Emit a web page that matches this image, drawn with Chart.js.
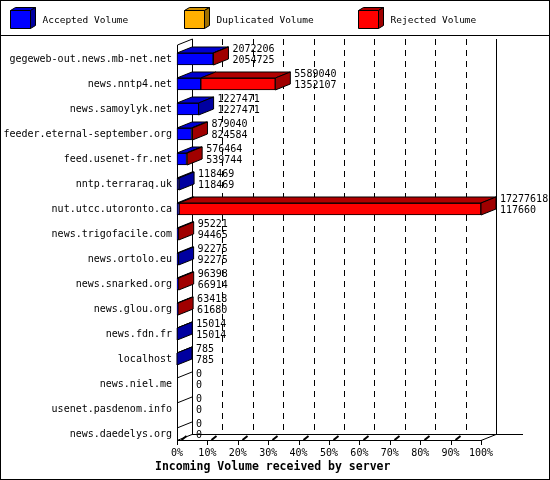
<!DOCTYPE html>
<html>
<head>
<meta charset="utf-8">
<script src="https://cdn.jsdelivr.net/npm/chart.js@4.4.1/dist/chart.umd.min.js"></script>
<style>
  html, body { margin: 0; padding: 0; background: #fff; }
  #chart { display: block; }
</style>
</head>
<body>
<canvas id="chart" width="550" height="480"></canvas>
<script>
const servers = ["gegeweb-out.news.mb-net.net", "news.nntp4.net", "news.samoylyk.net", "feeder.eternal-september.org",
                 "feed.usenet-fr.net", "nntp.terraraq.uk", "nut.utcc.utoronto.ca", "news.trigofacile.com",
                 "news.ortolo.eu", "news.snarked.org", "news.glou.org", "news.fdn.fr", "localhost",
                 "news.niel.me", "usenet.pasdenom.info", "news.daedelys.org"];
// top number printed next to each bar
const totalVolume = [2072206, 5589040, 1227471, 879040, 576464, 118469, 17277618, 95221,
                     92275, 96398, 63418, 15014, 785, 0, 0, 0];
const acceptedVolume = [2054725, 1352107, 1227471, 824584, 539744, 118469, 117660, 94465,
                        92275, 66914, 61680, 15014, 785, 0, 0, 0];
const duplicatedVolume = [0, 0, 0, 0, 0, 0, 0, 0, 0, 0, 0, 0, 0, 0, 0, 0];
const rejectedVolume = [17481, 4236933, 0, 54456, 36720, 0, 17159958, 756,
                        0, 29484, 1738, 0, 0, 0, 0, 0];
const percentTicks = [0, 10, 20, 30, 40, 50, 60, 70, 80, 90, 100];

const xMax = 17277618;
const DX = 15, DY = -6;          // depth of the fake 3d
const mono = "'DejaVu Sans Mono', monospace";

function poly(ctx, pts, fill) {
    ctx.beginPath();
    ctx.moveTo(pts[0][0], pts[0][1]);
    for (let i = 1; i < pts.length; i++) ctx.lineTo(pts[i][0], pts[i][1]);
    ctx.closePath();
    if (fill) { ctx.fillStyle = fill; ctx.fill(); }
    ctx.stroke();
}

function line(ctx, x1, y1, x2, y2) {
    ctx.beginPath();
    ctx.moveTo(x1, y1);
    ctx.lineTo(x2, y2);
    ctx.stroke();
}

// walls, floor, grid and the top/side faces of the bars
const box3d = {
    id: 'box3d',
    beforeDatasetsDraw(chart) {
        const ctx = chart.ctx;
        const xs = chart.scales.x;
        const area = chart.chartArea;
        const x0 = xs.getPixelForValue(0), x100 = xs.getPixelForValue(xMax);
        const fTop = area.top - 14, fBot = area.bottom + 6;
        ctx.save();
        ctx.strokeStyle = '#000';
        ctx.lineWidth = 1;
        // dashed grid on the back wall
        ctx.setLineDash([6, 5]);
        percentTicks.slice(1, -1).forEach(p => {
            const x = Math.round(xs.getPixelForValue(p / 100 * xMax) + DX) + 0.5;
            line(ctx, x, fTop + DY, x, fBot + DY);
        });
        ctx.setLineDash([]);
        line(ctx, x0 + DX + 0.5, fTop + DY, x0 + DX + 0.5, fBot + DY);
        line(ctx, x100 + DX + 0.5, fTop + DY, x100 + DX + 0.5, fBot + DY);
        line(ctx, x0 + 0.5, fTop, x0 + 0.5, fBot);
        line(ctx, x0 + 0.5, fTop, x0 + DX + 0.5, fTop + DY);
        // floor
        line(ctx, x0, fBot + 0.5, x100, fBot + 0.5);
        line(ctx, x100, fBot + 0.5, x100 + DX, fBot + DY + 0.5);
        line(ctx, x0 + DX, fBot + DY + 0.5, x100 + DX + 27, fBot + DY + 0.5);
        line(ctx, x0, fBot + 0.5, x0 + DX, fBot + DY + 0.5);
        percentTicks.forEach(p => {
            const x = Math.round(xs.getPixelForValue(p / 100 * xMax)) + 0.5;
            line(ctx, x, fBot, x, fBot + 5);
            if (p < 100) {
                ctx.lineWidth = 2;
                line(ctx, x + 4, fBot, x + 9, fBot - 4);
                ctx.lineWidth = 1;
            }
        });
        ctx.restore();
    },
    afterDatasetsDraw(chart) {
        const ctx = chart.ctx;
        const metas = chart.data.datasets.map((d, i) => chart.getDatasetMeta(i));
        ctx.save();
        ctx.strokeStyle = '#000';
        ctx.lineWidth = 1;
        ctx.font = '10px ' + mono;
        ctx.fillStyle = '#000';
        servers.forEach((s, row) => {
            let last = null, end = null, y = 0, h = 0;
            metas.forEach((m, di) => {
                const bar = m.data[row];
                const p = bar.getProps(['x', 'y', 'base', 'height'], true);
                y = p.y; h = p.height;
                const left = Math.min(p.x, p.base), right = Math.max(p.x, p.base);
                if (end === null) end = left;
                if (right - left > 0.01) {
                    const top = y - h / 2;
                    poly(ctx, [[left, top], [right, top], [right + DX, top + DY], [left + DX, top + DY]],
                         chart.data.datasets[di].topColor);
                    last = di;
                    end = right;
                }
            });
            const top = y - h / 2, bot = y + h / 2;
            if (last !== null) {
                poly(ctx, [[end, top], [end + DX, top + DY], [end + DX, bot + DY], [end, bot]],
                     chart.data.datasets[last].sideColor);
            } else {
                line(ctx, end, top, end + DX, top + DY);
            }
            ctx.textBaseline = 'middle';
            ctx.textAlign = 'left';
            ctx.fillStyle = '#000';
            ctx.fillText(String(totalVolume[row]), end + DX + 4, y - 10);
            ctx.fillText(String(acceptedVolume[row]), end + DX + 4, y + 1);
        });
        ctx.restore();
    },
    afterDraw(chart) {
        const ctx = chart.ctx;
        ctx.save();
        ctx.strokeStyle = '#000';
        ctx.lineWidth = 1;
        ctx.strokeRect(0.5, 0.5, chart.width - 1, chart.height - 1);
        line(ctx, 0, 35.5, chart.width, 35.5);
        // legend with little cubes
        chart.data.datasets.forEach((d, i) => {
            const bx = 10.5 + i * 174, by = 10.5;
            poly(ctx, [[bx, by], [bx + 5, by - 3], [bx + 25, by - 3], [bx + 20, by]], d.topColor);
            poly(ctx, [[bx + 20, by], [bx + 25, by - 3], [bx + 25, by + 15], [bx + 20, by + 18]], d.sideColor);
            poly(ctx, [[bx, by], [bx + 20, by], [bx + 20, by + 18], [bx, by + 18]], d.backgroundColor);
            ctx.fillStyle = '#000';
            ctx.font = '9.5px ' + mono;
            ctx.textBaseline = 'middle';
            ctx.textAlign = 'left';
            ctx.fillText(d.label, bx + 32, by + 10);
        });
        ctx.font = 'bold 11.5px ' + mono;
        ctx.textBaseline = 'middle';
        ctx.fillText('Incoming Volume received by server', 155, 467);
        ctx.restore();
    }
};

const data = {
    labels: servers,
    datasets: [{
        label: 'Accepted Volume',
        data: acceptedVolume,
        backgroundColor: '#0000ff',
        topColor: '#0000d0',
        sideColor: '#0000a0'
    }, {
        label: 'Duplicated Volume',
        data: duplicatedVolume,
        backgroundColor: '#ffb000',
        topColor: '#d09000',
        sideColor: '#a07000'
    }, {
        label: 'Rejected Volume',
        data: rejectedVolume,
        backgroundColor: '#ff0000',
        topColor: '#b00000',
        sideColor: '#a00000'
    }]
};

const config = {
    type: 'bar',
    data: data,
    options: {
        indexAxis: 'y',
        responsive: false,
        animation: false,
        devicePixelRatio: 1,
        datasets: {
            bar: {
                barThickness: 12,
                borderWidth: 1,
                borderColor: '#000',
                borderSkipped: false,
                clip: false
            }
        },
        layout: { padding: { top: 59, right: 69, bottom: 0, left: 0 } },
        scales: {
            x: {
                stacked: true,
                min: 0,
                max: xMax,
                afterBuildTicks: s => { s.ticks = percentTicks.map(p => ({ value: p / 100 * xMax })); },
                afterFit: s => { s.height = 46; },
                grid: { display: false, drawTicks: false },
                border: { display: false },
                ticks: {
                    autoSkip: false,
                    maxRotation: 0,
                    padding: 13,
                    color: '#000',
                    font: { family: mono, size: 10 },
                    callback: v => Math.round(v / xMax * 100) + '%'
                }
            },
            y: {
                stacked: true,
                offset: false,
                afterFit: s => { s.width = 177; },
                grid: { display: false, drawTicks: false },
                border: { display: false },
                ticks: {
                    autoSkip: false,
                    padding: 5,
                    color: '#000',
                    font: { family: mono, size: 10 }
                }
            }
        },
        plugins: {
            legend: { display: false },
            tooltip: { enabled: false }
        }
    },
    plugins: [box3d]
};

var chart = new Chart(document.getElementById('chart'), config);
</script>
</body>
</html>
